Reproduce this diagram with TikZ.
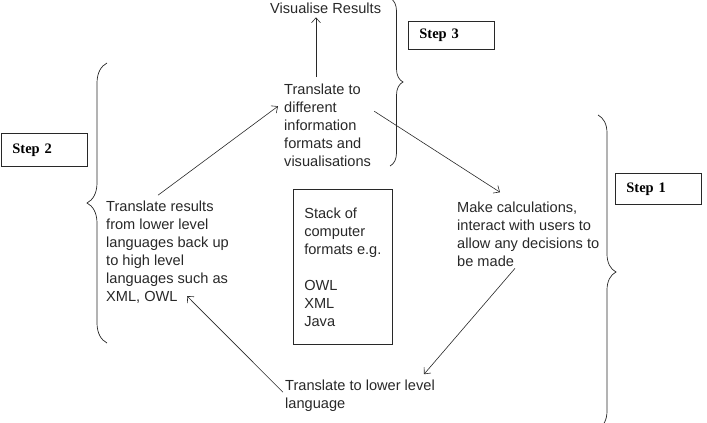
\documentclass[tikz,border=0pt]{standalone}
\usepackage{fontspec}
\setmainfont{Liberation Sans}
\newfontfamily\stepfont{Liberation Serif}
\usetikzlibrary{arrows.meta,decorations.pathreplacing}
\definecolor{ink}{RGB}{40,40,40}

\begin{document}
\begin{tikzpicture}[x=1pt,y=-1pt,
  lbl/.style={anchor=base west,align=left,inner sep=0pt,color=ink,font=\fontsize{14.6}{18}\selectfont},
  stepbox/.style={draw=ink,line width=0.8pt,anchor=north west,text width=64pt,inner xsep=11pt,align=left,font=\stepfont\bfseries\fontsize{14.5}{17}\selectfont},
  flow/.style={-{Straight Barb[length=5pt,width=9pt]},line width=0.6pt,color=ink},
  curly/.style={decorate,decoration={brace,amplitude=#1},line width=0.7pt,color=ink}]
  \useasboundingbox (0,0) rectangle (707,423);

  % the four steps of the cycle (placed by the baseline of their last line)
  \node[lbl] (vis) at (270,13) {Visualise Results};
  \node[lbl] (trans) at (284,166) {Translate to\\different\\information\\formats and\\visualisations};
  \node[lbl] (results) at (106,301) {Translate results\\from lower level\\languages back up\\to high level\\languages such as\\XML, OWL};
  \node[lbl] (make) at (457,266) {Make calculations,\\interact with users to\\allow any decisions to\\be made};
  \node[lbl] (lower) at (285,408) {Translate to lower level\\language};
  \node[draw=ink,line width=0.7pt,anchor=north west,minimum width=99pt,minimum height=155pt,align=left,color=ink,font=\fontsize{14.6}{18}\selectfont] (stack) at (293,189) {Stack of\\computer\\formats e.g.\\[18pt]OWL\\XML\\Java};

  % step labels
  \node[stepbox,minimum height=28pt] (step3) at (408,21) {Step 3};
  \node[stepbox,minimum height=33pt] (step2) at (1,133) {Step 2};
  \node[stepbox,minimum height=31pt] (step1) at (615,173) {Step 1};

  % braces
  \draw[curly=13pt] (390,-2) -- (390,166);
  \draw[curly=20pt] (107,343) -- (107,63);
  \draw[curly=18pt] (598,115) -- (598,429);

  % arrows
  \draw[flow] ([xshift=32pt,yshift=6pt]trans.north west) -- ([xshift=46pt,yshift=-4pt]vis.south west);
  \draw[flow] ([xshift=52pt,yshift=5pt]results.north west) -- ([xshift=-6pt,yshift=-23pt]trans.north west);
  \draw[flow] ([xshift=3pt,yshift=-28pt]trans.north east) -- ([xshift=43pt,yshift=9pt]make.north west);
  \draw[flow] ([xshift=58pt,yshift=-2pt]make.south west) -- ([xshift=139pt,yshift=5pt]lower.north west);
  \draw[flow] ([xshift=-2pt,yshift=-13pt]lower.north west) -- ([xshift=81pt,yshift=7pt]results.south west);
\end{tikzpicture}
\end{document}
